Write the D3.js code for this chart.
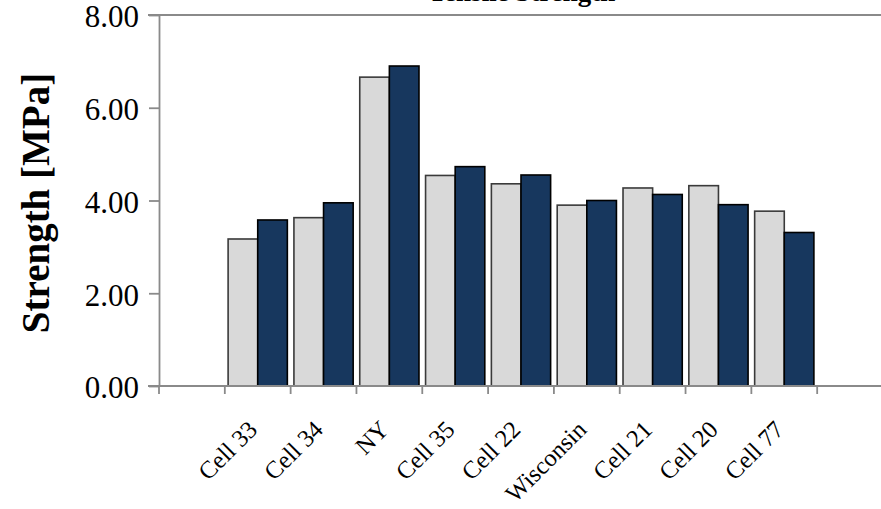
<!DOCTYPE html>
<head>
<meta charset="utf-8">
<title>Strength by cell</title>
<script src="https://d3js.org/d3.v7.min.js"></script>
<style>
body{
	margin: 0;
	background: #fff;
}
text{
	font-family: "Liberation Serif", "Times New Roman", serif;
	fill: #000;
}
</style>
</head>
<body>
<div id="chart"></div>
<script>

// data
var categories = ["Cell 33", "Cell 34", "NY", "Cell 35", "Cell 22", "Wisconsin", "Cell 21", "Cell 20", "Cell 77"];
var seriesNames = ["Series 1", "Series 2"];
var series1Values = [3.17, 3.63, 6.66, 4.54, 4.36, 3.90, 4.27, 4.32, 3.77];
var series2Values = [3.58, 3.95, 6.90, 4.73, 4.55, 4.00, 4.13, 3.91, 3.31];
var yTicks = [0, 2, 4, 6, 8];

var width = 881, height = 509;
var colors = ["#d9d9d9", "#17375e"];
var strokes = ["#3a3a3a", "#000"];
var axisColor = "#8a8a8a";

var svg = d3.select("#chart")
	.append("svg")
	.attr("width", width)
	.attr("height", height);

// the category axis has an empty slot on each side
var slots = ["_pre"].concat(categories, ["_post"]);

var x0 = d3.scaleBand()
	.domain(slots)
	.range([159, 883])
	.paddingInner(0.1)
	.paddingOuter(0.05);

var x1 = d3.scaleBand()
	.domain(seriesNames)
	.range([0, x0.bandwidth()]);

var y = d3.scaleLinear()
	.domain([0, 8])
	.range([386, 15]);

var rows = categories.map(function(c, i) {
	return {cat: c, values: [series1Values[i], series2Values[i]]};
});

// top line at 8.00
svg.append("line")
	.attr("x1", 148).attr("x2", 883)
	.attr("y1", y(8)).attr("y2", y(8))
	.attr("stroke", axisColor)
	.attr("stroke-width", 1.8);

// bars
var groups = svg.append("g")
	.selectAll("g")
	.data(rows)
	.join("g")
	.attr("transform", d => "translate(" + x0(d.cat) + ",0)");

groups.selectAll("rect")
	.data(d => d.values.map((v, j) => ({name: seriesNames[j], value: v, j: j})))
	.join("rect")
	.attr("x", d => x1(d.name))
	.attr("width", x1.bandwidth())
	.attr("y", d => y(d.value))
	.attr("height", d => y(0) - y(d.value))
	.attr("fill", d => colors[d.j])
	.attr("stroke", d => strokes[d.j])
	.attr("stroke-width", 1.6);

// y axis
var yAxis = svg.append("g")
	.attr("transform", "translate(159,0)")
	.call(d3.axisLeft(y)
		.tickValues(yTicks)
		.tickSize(10)
		.tickSizeOuter(0)
		.tickPadding(10)
		.tickFormat(d3.format(".2f")));

yAxis.selectAll("text")
	.attr("font-size", 31)
	.attr("dy", "0.38em");

// x axis: labels at band centers
var xAxis = svg.append("g")
	.attr("transform", "translate(0," + y(0) + ")")
	.call(d3.axisBottom(x0)
		.tickSize(0)
		.tickSizeOuter(0)
		.tickFormat(d => d.charAt(0) === "_" ? "" : d));

xAxis.selectAll(".tick text")
	.attr("font-size", 24.5)
	.attr("text-anchor", "end")
	.attr("dy", 0)
	.attr("y", 0)
	.attr("transform", "translate(1,45) rotate(-45)");

xAxis.select(".domain").remove();

// x axis line and ticks at slot boundaries
var boundaries = slots.map(s => x0(s) - x0.step() * 0.05);

svg.append("line")
	.attr("x1", 148).attr("x2", 883)
	.attr("y1", y(0)).attr("y2", y(0))
	.attr("stroke", axisColor)
	.attr("stroke-width", 1.8);

svg.append("g")
	.selectAll("line")
	.data(boundaries)
	.join("line")
	.attr("x1", d => d).attr("x2", d => d)
	.attr("y1", y(0)).attr("y2", y(0) + 8)
	.attr("stroke", axisColor)
	.attr("stroke-width", 1.8);

svg.selectAll(".domain, .tick line")
	.attr("stroke", axisColor)
	.attr("stroke-width", 1.8);

// axis title
svg.append("text")
	.attr("transform", "translate(49,203) rotate(-90)")
	.attr("text-anchor", "middle")
	.attr("font-size", 39)
	.attr("font-weight", "bold")
	.text("Strength [MPa]");

// chart title, cut off by the top edge
svg.append("text")
	.attr("x", 522)
	.attr("y", 1)
	.attr("text-anchor", "middle")
	.attr("font-size", 27)
	.attr("font-weight", "bold")
	.text("Tensile Strength");

</script>
</body>
</html>
